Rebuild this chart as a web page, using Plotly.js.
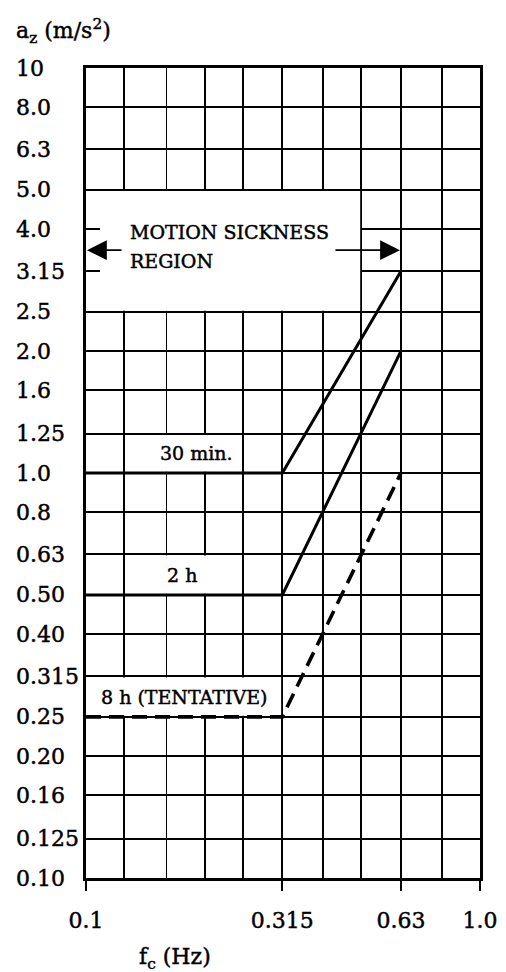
<!DOCTYPE html>
<html>
<head>
<meta charset="utf-8">
<script src="https://cdn.plot.ly/plotly-3.0.1.min.js"></script>
<style>
html,body{margin:0;padding:0;background:#fff;}
#chart{width:506px;height:972px;}
#chart text{stroke:#000;stroke-width:0.45px;}
</style>
</head>
<body>
<div id="chart"></div>
<script>
// ---- data ----
const freqHz = [0.1, 0.315, 0.63];
const accel30min = [1.0, 1.0, 3.15];
const accel2h = [0.5, 0.5, 2.0];
const accel8h = [0.25, 0.25, 1.0];

const yTickVals = [0.10, 0.125, 0.16, 0.20, 0.25, 0.315, 0.40, 0.50, 0.63, 0.8, 1.0, 1.25, 1.6, 2.0, 2.5, 3.15, 4.0, 5.0, 6.3, 8.0, 10];
const yTickText = ["0.10", "0.125", "0.16", "0.20", "0.25", "0.315", "0.40", "0.50", "0.63", "0.8", "1.0", "1.25", "1.6", "2.0", "2.5", "3.15", "4.0", "5.0", "6.3", "8.0", "10"];
const xGridVals = [0.1, 0.125, 0.16, 0.20, 0.25, 0.315, 0.40, 0.50, 0.63, 0.8, 1.0];
const xTickVals = [0.1, 0.315, 0.63, 1.0];
const xTickText = ["0.1", "0.315", "0.63", "1.0"];

const FONT = "DejaVu Serif, Liberation Serif, serif";
const INK = "#000";
const L = Math.log10;

const traces = [
  {x: freqHz, y: accel30min, mode: "lines", line: {color: INK, width: 3}, name: "30 min."},
  {x: freqHz, y: accel2h, mode: "lines", line: {color: INK, width: 3}, name: "2 h"},
  {x: freqHz, y: accel8h, mode: "lines", line: {color: INK, width: 3.6, dash: "15px,8px"}, name: "8 h"}
];

// white label boxes (cover grid, data coords); inset ~1px so border grid lines stay
const ix = Math.pow(10, 1.2 / 394), iy = Math.pow(10, 1.2 / 405);
function box(x0, x1, y0, y1) {
  return {type: "rect", xref: "x", yref: "y", x0: x0 * ix, x1: x1 / ix, y0: y0 * iy, y1: y1 / iy,
          fillcolor: "#fff", line: {width: 0}, layer: "between"};
}
const shapes = [
  box(0.1, 0.5, 2.5, 5.0),
  box(0.125, 0.25, 1.0, 1.25),
  box(0.125, 0.25, 0.5, 0.63),
  box(0.1, 0.315, 0.25, 0.315)
];

const annotations = [];
// y tick labels, left aligned
yTickVals.forEach((v, i) => {
  annotations.push({xref: "paper", yref: "y", x: -0.183, y: L(v), xanchor: "left", yanchor: "middle",
    text: yTickText[i], showarrow: false, font: {family: FONT, size: 22, color: INK}});
});
const lab = (x, y, t, anchor) => ({xref: "x", yref: "y", x: L(x), y: L(y), text: t, showarrow: false,
  xanchor: anchor || "center", yanchor: "middle", font: {family: FONT, size: 19, color: INK}});
annotations.push(lab(0.191, Math.sqrt(1.0 * 1.25), "30 min."));
annotations.push(lab(0.175, Math.sqrt(0.5 * 0.63), "2 h"));
annotations.push(lab(0.177, Math.sqrt(0.25 * 0.315), "8 h (TENTATIVE)"));
annotations.push(lab(0.1278, 3.94, "MOTION SICKNESS", "left"));
annotations.push(lab(0.1278, 3.34, "REGION", "left"));
// region arrows
const arrowY = L(Math.sqrt(4.0 * 3.15));
annotations.push({xref: "x", yref: "y", x: L(0.1), y: arrowY, ax: 37, ay: 0, text: "", showarrow: true,
  arrowhead: 2, arrowsize: 2.2, arrowwidth: 1.8, arrowcolor: INK, standoff: 1});
annotations.push({xref: "x", yref: "y", x: L(0.63), y: arrowY, ax: -67, ay: 0, text: "", showarrow: true,
  arrowhead: 2, arrowsize: 2.2, arrowwidth: 1.8, arrowcolor: INK, standoff: 1});
// axis titles
annotations.push({xref: "paper", yref: "paper", x: -0.183, y: 1.0457, xanchor: "left", yanchor: "middle",
  text: "a<sub>z</sub> (m/s<sup>2</sup>)", showarrow: false, font: {family: FONT, size: 22, color: INK}});
annotations.push({xref: "paper", yref: "paper", x: 0.13, y: -0.099, xanchor: "left", yanchor: "middle",
  text: "f<sub>c</sub> (Hz)", showarrow: false, font: {family: FONT, size: 22, color: INK}});

const layout = {
  width: 506, height: 972,
  margin: {l: 86, r: 26, t: 68, b: 94},
  paper_bgcolor: "#fff", plot_bgcolor: "#fff",
  showlegend: false,
  xaxis: {
    type: "log", range: [-1, 0],
    tickmode: "array", tickvals: xTickVals, ticktext: xTickText,
    ticks: "outside", ticklen: 10, tickwidth: 1.8, tickcolor: INK, ticklabelstandoff: 11,
    tickfont: {family: FONT, size: 22, color: INK},
    showgrid: true, gridcolor: INK, gridwidth: 1.8,
    minor: {tickmode: "array", tickvals: xGridVals, showgrid: true, gridcolor: INK, gridwidth: 1.8, ticks: ""},
    showline: true, linecolor: INK, linewidth: 2.8, mirror: true, zeroline: false, fixedrange: true
  },
  yaxis: {
    type: "log", range: [-1, 1],
    tickmode: "array", tickvals: yTickVals, ticktext: yTickText, showticklabels: false,
    ticks: "inside", ticklen: 14, tickwidth: 1.8, tickcolor: INK,
    showgrid: true, gridcolor: INK, gridwidth: 1.8,
    showline: true, linecolor: INK, linewidth: 2.8, mirror: true, zeroline: false, fixedrange: true
  },
  shapes: shapes,
  annotations: annotations
};

Plotly.newPlot("chart", traces, layout, {displayModeBar: false, staticPlot: true});
</script>
</body>
</html>
